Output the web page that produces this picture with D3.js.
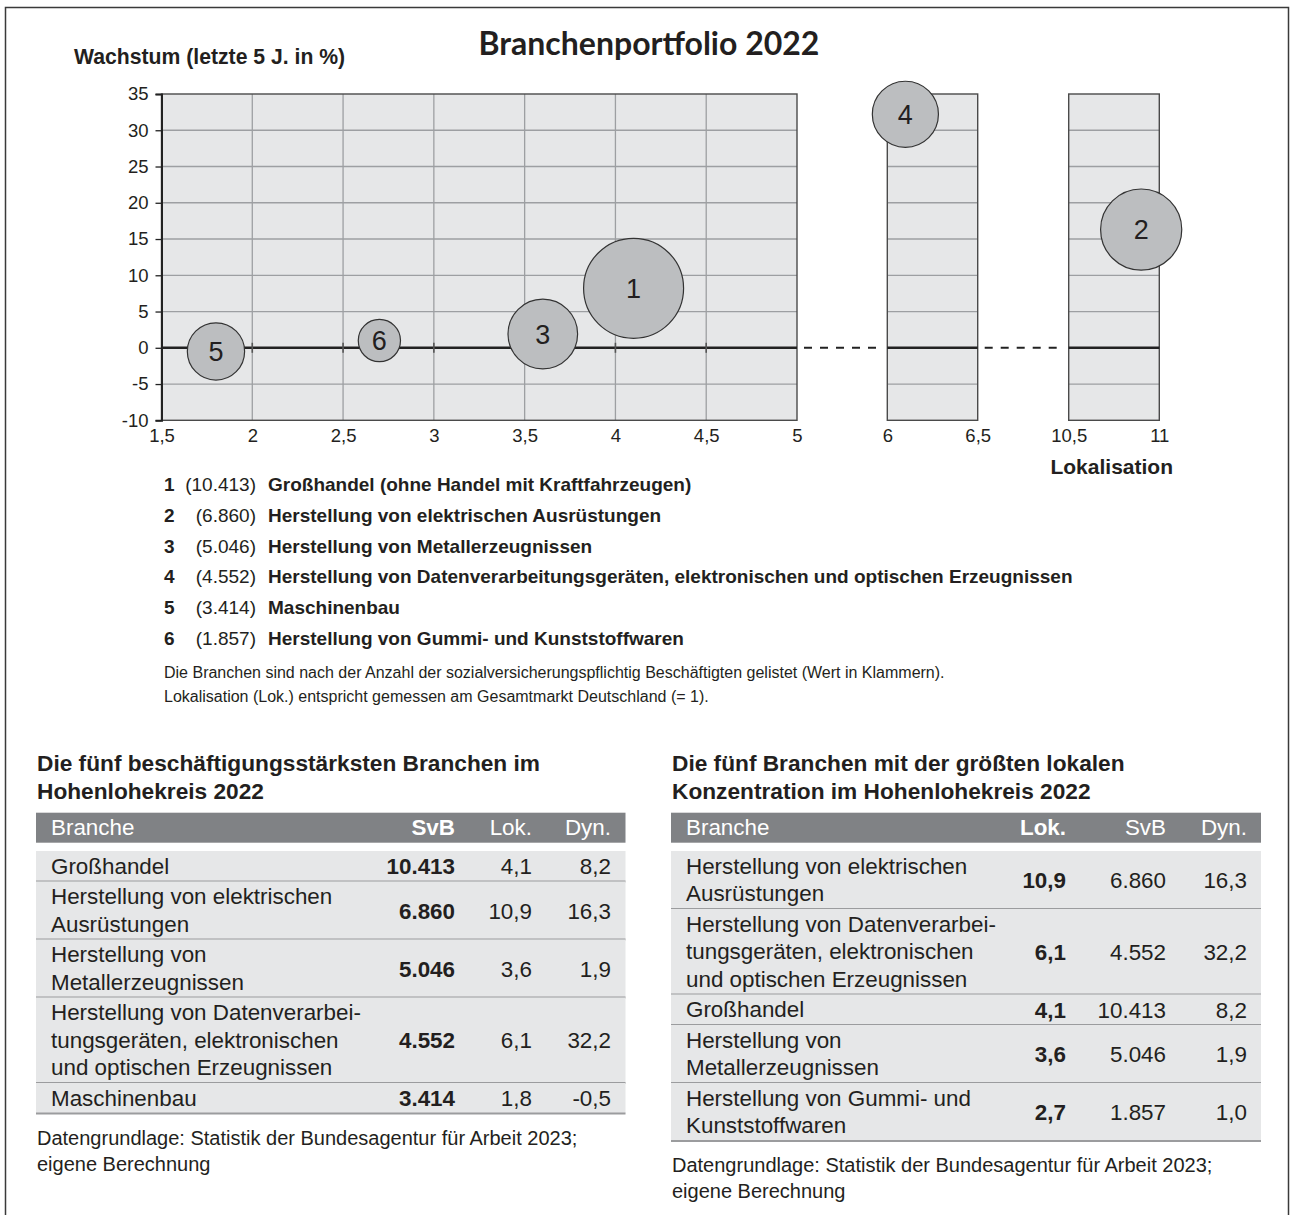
<!DOCTYPE html>
<html>
<head>
<meta charset="utf-8">
<script src="https://cdn.jsdelivr.net/npm/d3@7"></script>
<style>
  body { margin: 0; background: #fff; }
  text { font-family: "Liberation Sans", Arial, sans-serif; fill: #231f20; }
</style>
</head>
<body>
<svg id="chart" width="1291" height="1215"></svg>
<script>
// --- bubble chart data (1..6 sorted by SvB) ---
var nummer = [1, 2, 3, 4, 5, 6];
var svb = [10413, 6860, 5046, 4552, 3414, 1857];
var lok = [4.1, 10.9, 3.6, 6.1, 1.8, 2.7];
var dyn = [8.2, 16.3, 1.9, 32.2, -0.5, 1.0];
var branchen = [
  'Großhandel (ohne Handel mit Kraftfahrzeugen)',
  'Herstellung von elektrischen Ausrüstungen',
  'Herstellung von Metallerzeugnissen',
  'Herstellung von Datenverarbeitungsgeräten, elektronischen und optischen Erzeugnissen',
  'Maschinenbau',
  'Herstellung von Gummi- und Kunststoffwaren'
];
var yTicks = [-10, -5, 0, 5, 10, 15, 20, 25, 30, 35];
var xTicksA = [1.5, 2, 2.5, 3, 3.5, 4, 4.5, 5];
var xTicksB = [6, 6.5];
var xTicksC = [10.5, 11];
var notes = [
  'Die Branchen sind nach der Anzahl der sozialversicherungspflichtig Beschäftigten gelistet (Wert in Klammern).',
  'Lokalisation (Lok.) entspricht gemessen am Gesamtmarkt Deutschland (= 1).'
];

// --- table 1: beschäftigungsstärkste Branchen ---
var t1Titel = ['Die fünf beschäftigungsstärksten Branchen im', 'Hohenlohekreis 2022'];
var t1Kopf = ['Branche', 'SvB', 'Lok.', 'Dyn.'];
var t1Namen = [
  ['Großhandel'],
  ['Herstellung von elektrischen', 'Ausrüstungen'],
  ['Herstellung von', 'Metallerzeugnissen'],
  ['Herstellung von Datenverarbei-', 'tungsgeräten, elektronischen', 'und optischen Erzeugnissen'],
  ['Maschinenbau']
];
var t1Svb = [10413, 6860, 5046, 4552, 3414];
var t1Lok = [4.1, 10.9, 3.6, 6.1, 1.8];
var t1Dyn = [8.2, 16.3, 1.9, 32.2, -0.5];

// --- table 2: größte lokale Konzentration ---
var t2Titel = ['Die fünf Branchen mit der größten lokalen', 'Konzentration im Hohenlohekreis 2022'];
var t2Kopf = ['Branche', 'Lok.', 'SvB', 'Dyn.'];
var t2Namen = [
  ['Herstellung von elektrischen', 'Ausrüstungen'],
  ['Herstellung von Datenverarbei-', 'tungsgeräten, elektronischen', 'und optischen Erzeugnissen'],
  ['Großhandel'],
  ['Herstellung von', 'Metallerzeugnissen'],
  ['Herstellung von Gummi- und', 'Kunststoffwaren']
];
var t2Lok = [10.9, 6.1, 4.1, 3.6, 2.7];
var t2Svb = [6860, 4552, 10413, 5046, 1857];
var t2Dyn = [16.3, 32.2, 8.2, 1.9, 1.0];

var quelle = ['Datengrundlage: Statistik der Bundesagentur für Arbeit 2023;', 'eigene Berechnung'];

var de = d3.formatLocale({decimal: ',', thousands: '.', grouping: [3], currency: ['', ' €'], minus: '-'});
var fTick = de.format('~g');
var fSvb = de.format(',');
var fDez = de.format('.1f');

var svg = d3.select('#chart');
var ink = '#231f20';

// outer frame
svg.append('rect')
  .attr('x', 5.5).attr('y', 7.5)
  .attr('width', 1283).attr('height', 1230)
  .attr('fill', 'none').attr('stroke', '#3a3a3a').attr('stroke-width', 1.5);

svg.append('text')
  .attr('x', 649).attr('y', 55)
  .attr('text-anchor', 'middle')
  .style('font-family', 'Lato, "Open Sans", sans-serif')
  .style('font-weight', 'bold').style('font-size', '32px')
  .text('Branchenportfolio 2022');

svg.append('text')
  .attr('x', 74).attr('y', 64)
  .style('font-weight', 'bold').style('font-size', '21.2px')
  .text('Wachstum (letzte 5 J. in %)');

svg.append('text')
  .attr('x', 1173).attr('y', 474)
  .attr('text-anchor', 'end')
  .style('font-weight', 'bold').style('font-size', '21px')
  .text('Lokalisation');

// --- scales: one broken x axis in three panels ---
var y = d3.scaleLinear().domain([-10, 35]).range([420.3, 94]);
var r = d3.scaleSqrt().domain([0, 10413]).range([0, 50]);

var panels = [
  {dom: [1.5, 5], rng: [161.5, 797], ticks: xTicksA, main: true},
  {dom: [6, 6.5], rng: [887.3, 977.7], ticks: xTicksB},
  {dom: [10.5, 11], rng: [1068.7, 1159.3], ticks: xTicksC}
];
panels.forEach(function (p) { p.x = d3.scaleLinear().domain(p.dom).range(p.rng); });

function panelFor(v) {
  return panels.find(function (p) { return v >= p.dom[0] && v <= p.dom[1]; });
}

panels.forEach(function (p) {
  var g = svg.append('g');
  var x0 = p.x(p.dom[0]), x1 = p.x(p.dom[1]);
  g.append('rect')
    .attr('x', x0).attr('y', y(35))
    .attr('width', x1 - x0).attr('height', y(-10) - y(35))
    .attr('fill', '#e6e7e8');

  // horizontal grid
  g.selectAll('.hg').data(yTicks.filter(function (d) { return d !== 0 && d !== -10 && d !== 35; }))
    .enter().append('line')
    .attr('x1', x0).attr('x2', x1)
    .attr('y1', function (d) { return y(d); }).attr('y2', function (d) { return y(d); })
    .attr('stroke', '#9d9fa2').attr('stroke-width', 1.3);

  if (p.main) {
    g.selectAll('.vg').data(p.ticks.slice(1, -1))
      .enter().append('line')
      .attr('x1', function (d) { return p.x(d); }).attr('x2', function (d) { return p.x(d); })
      .attr('y1', y(35)).attr('y2', y(-10))
      .attr('stroke', '#9d9fa2').attr('stroke-width', 1.3);
  }

  g.append('rect')
    .attr('x', x0).attr('y', y(35))
    .attr('width', x1 - x0).attr('height', y(-10) - y(35))
    .attr('fill', 'none').attr('stroke', '#4a4a4a').attr('stroke-width', 1.4);

  // zero line
  g.append('line')
    .attr('x1', x0).attr('x2', x1)
    .attr('y1', y(0)).attr('y2', y(0))
    .attr('stroke', '#222').attr('stroke-width', 2.5);

  if (p.main) {
    g.selectAll('.zt').data(p.ticks.slice(1, -1))
      .enter().append('line')
      .attr('x1', function (d) { return p.x(d); }).attr('x2', function (d) { return p.x(d); })
      .attr('y1', y(0) - 5).attr('y2', y(0) + 5)
      .attr('stroke', '#555').attr('stroke-width', 1.6);
  }

  var ax = g.append('g')
    .attr('transform', 'translate(0,' + y(-10) + ')')
    .call(d3.axisBottom(p.x).tickValues(p.ticks).tickSize(0).tickPadding(9).tickFormat(fTick));
  ax.select('.domain').remove();
  ax.selectAll('text').style('font-size', '18.5px').style('font-family', '"Liberation Sans", Arial, sans-serif').attr('fill', ink);
});

// dashed connectors on zero line between panels
for (var i = 0; i < panels.length - 1; i++) {
  svg.append('line')
    .attr('x1', panels[i].x(panels[i].dom[1]) + 7)
    .attr('x2', panels[i + 1].x(panels[i + 1].dom[0]) - 5)
    .attr('y1', y(0)).attr('y2', y(0))
    .attr('stroke', '#222').attr('stroke-width', 2)
    .attr('stroke-dasharray', '8,8');
}

// main y axis
var yAx = svg.append('g')
  .attr('transform', 'translate(' + panels[0].x(1.5) + ',0)')
  .call(d3.axisLeft(y).tickValues(yTicks).tickSize(6).tickPadding(7).tickFormat(fTick));
yAx.select('.domain').attr('stroke', '#222').attr('stroke-width', 2);
yAx.selectAll('line').attr('stroke', '#222').attr('stroke-width', 1.3);
yAx.selectAll('text').style('font-size', '18.5px').style('font-family', '"Liberation Sans", Arial, sans-serif').attr('fill', ink);

// bubbles
var bubbles = nummer.map(function (n, i) { return {n: n, svb: svb[i], lok: lok[i], dyn: dyn[i]}; });
var bg = svg.selectAll('.bubble').data(bubbles).enter().append('g');
bg.append('circle')
  .attr('cx', function (d) { return panelFor(d.lok).x(d.lok); })
  .attr('cy', function (d) { return y(d.dyn); })
  .attr('r', function (d) { return r(d.svb); })
  .attr('fill', '#bcbec0').attr('stroke', '#333').attr('stroke-width', 1.2);
bg.append('text')
  .attr('x', function (d) { return panelFor(d.lok).x(d.lok); })
  .attr('y', function (d) { return y(d.dyn) + 9.5; })
  .attr('text-anchor', 'middle')
  .style('font-size', '27px')
  .text(function (d) { return d.n; });

// legend
var lg = svg.selectAll('.leg').data(bubbles).enter().append('g')
  .attr('transform', function (d, i) { return 'translate(0,' + (491 + i * 30.8) + ')'; });
lg.append('text').attr('x', 164).style('font-weight', 'bold').style('font-size', '19px')
  .text(function (d) { return d.n; });
lg.append('text').attr('x', 256).attr('text-anchor', 'end').style('font-size', '19px')
  .text(function (d) { return '(' + fSvb(d.svb) + ')'; });
lg.append('text').attr('x', 268).style('font-weight', 'bold').style('font-size', '19px')
  .text(function (d, i) { return branchen[i]; });

svg.selectAll('.note').data(notes).enter().append('text')
  .attr('x', 164).attr('y', function (d, i) { return 678 + i * 24; })
  .style('font-size', '16px')
  .text(function (d) { return d; });

// tables
function drawTable(o) {
  var g = svg.append('g');
  g.selectAll('.tt').data(o.titel).enter().append('text')
    .attr('x', o.x0 + 1).attr('y', function (d, i) { return 771 + i * 28; })
    .style('font-weight', 'bold').style('font-size', '22.7px')
    .text(function (d) { return d; });

  g.append('rect').attr('x', o.x0).attr('y', 812.7)
    .attr('width', o.x1 - o.x0).attr('height', 30).attr('fill', '#808285');
  g.selectAll('.th').data(o.kopf).enter().append('text')
    .attr('x', function (d, i) { return i === 0 ? o.textX : o.rights[i - 1]; })
    .attr('y', 835)
    .attr('text-anchor', function (d, i) { return i === 0 ? 'start' : 'end'; })
    .style('font-size', '22.4px')
    .style('font-weight', function (d, i) { return i === 1 ? 'bold' : 'normal'; })
    .style('fill', '#fff')
    .text(function (d) { return d; });

  var yy = 851;
  o.namen.forEach(function (lines, k) {
    var h = 3 + 27.5 * lines.length;
    g.append('rect').attr('x', o.x0).attr('y', yy)
      .attr('width', o.x1 - o.x0).attr('height', h).attr('fill', '#e6e7e8');
    g.append('line').attr('x1', o.x0).attr('x2', o.x1)
      .attr('y1', yy + h).attr('y2', yy + h)
      .attr('stroke', '#9b9c9e').attr('stroke-width', 2);
    lines.forEach(function (t, j) {
      g.append('text').attr('x', o.textX).attr('y', yy + 22.5 + j * 27.5)
        .style('font-size', '22.4px').text(t);
    });
    o.cols.forEach(function (col, c) {
      g.append('text')
        .attr('x', o.rights[c]).attr('y', yy + h / 2 + 8)
        .attr('text-anchor', 'end')
        .style('font-size', '22.4px')
        .style('font-weight', c === 0 ? 'bold' : 'normal')
        .text(o.fmts[c](col[k]));
    });
    yy += h;
  });

  g.selectAll('.q').data(quelle).enter().append('text')
    .attr('x', o.x0 + 1).attr('y', function (d, i) { return yy + 31 + i * 26; })
    .style('font-size', '20px')
    .text(function (d) { return d; });
}

drawTable({
  x0: 36, x1: 625.5, textX: 51, rights: [455, 532, 611],
  titel: t1Titel, kopf: t1Kopf, namen: t1Namen,
  cols: [t1Svb, t1Lok, t1Dyn], fmts: [fSvb, fDez, fDez]
});
drawTable({
  x0: 671, x1: 1261, textX: 686, rights: [1066, 1166, 1247],
  titel: t2Titel, kopf: t2Kopf, namen: t2Namen,
  cols: [t2Lok, t2Svb, t2Dyn], fmts: [fDez, fSvb, fDez]
});
</script>
</body>
</html>
